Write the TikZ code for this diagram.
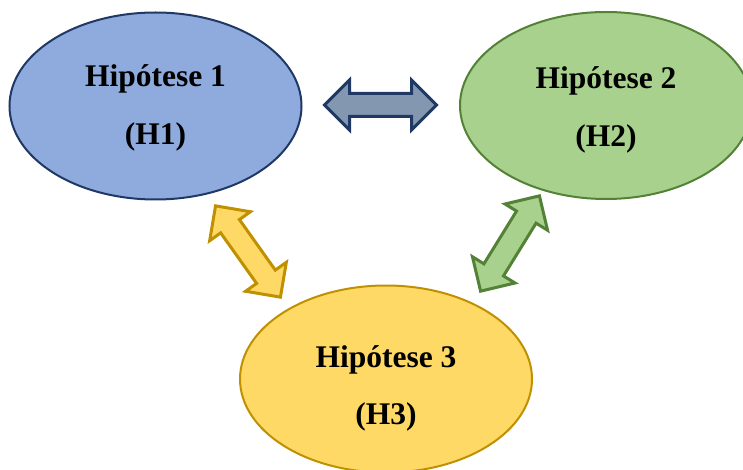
\documentclass[tikz,border=0pt]{standalone}
\usepackage{fontspec}
\setmainfont{Liberation Serif}
\usetikzlibrary{shapes.geometric,shapes.arrows}
\definecolor{bluefill}{HTML}{8FAADC}
\definecolor{blueline}{HTML}{1F3864}
\definecolor{greenfill}{HTML}{A9D18E}
\definecolor{greenline}{HTML}{538135}
\definecolor{yellowfill}{HTML}{FFD966}
\definecolor{yellowline}{HTML}{BF9000}
\definecolor{arrowblue}{HTML}{8497B0}
\tikzset{
  hyp/.style={ellipse, inner sep=0pt, line width=2pt, minimum width=292pt, minimum height=187pt},
  lbl/.style={anchor=base, inner sep=0pt, font=\fontsize{31.5}{36}\selectfont\bfseries},
  darrow/.style={double arrow, inner xsep=0pt, inner ysep=10pt, minimum height=112pt,
    double arrow head extend=13.5pt, line width=3pt, line join=miter},
}
\begin{document}
\begin{tikzpicture}[x=1pt,y=-1pt]
\useasboundingbox (0,0) rectangle (743,470);
\clip (0,0) rectangle (743,470);
\node[hyp, draw=blueline, fill=bluefill] (h1) at (155.5,106) {};
\node[hyp, draw=greenline, fill=greenfill] (h2) at (606,105.5) {};
\node[hyp, draw=yellowline, fill=yellowfill] (h3) at (386,379) {};
\node[lbl] (t1a) at (155.5,87) {Hipótese 1};
\node[lbl] (t1b) at (155.5,145) {(H1)};
\node[lbl] (t2a) at (606,89) {Hipótese 2};
\node[lbl] (t2b) at (606,147) {(H2)};
\node[lbl] (t3a) at (386,367) {Hipótese 3};
\node[lbl] (t3b) at (386,424) {(H3)};
\node[darrow, draw=blueline, fill=arrowblue] (a12) at (380.5,105) {};
\node[darrow, draw=yellowline, fill=yellowfill, rotate=-54.6] (a13) at (248,251.5) {};
\node[darrow, draw=greenline, fill=greenfill, rotate=58.3] (a23) at (510,243.5) {};
\end{tikzpicture}
\end{document}
